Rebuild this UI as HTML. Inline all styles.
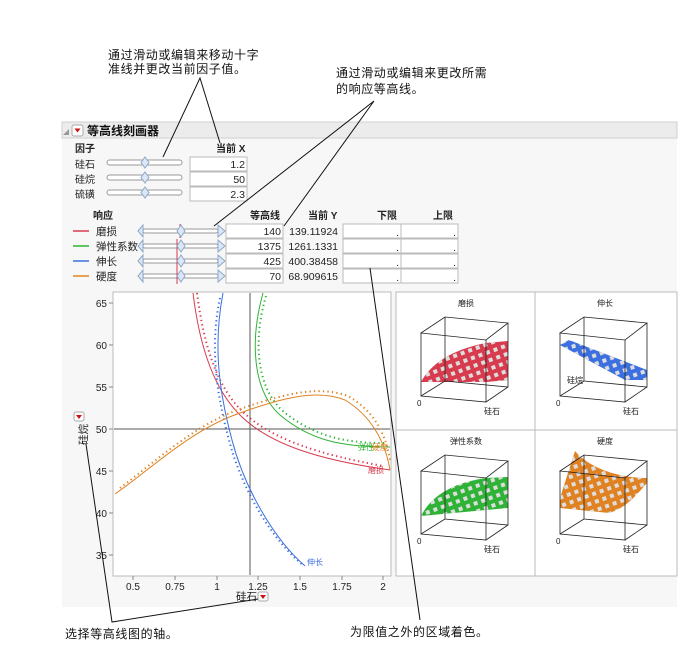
<!DOCTYPE html>
<html><head><meta charset="utf-8"><style>
html,body{margin:0;padding:0;background:#fff;}
svg{display:block;font-family:"Liberation Sans","Noto Sans CJK SC",sans-serif;}
</style></head><body>
<svg width="680" height="654" viewBox="0 0 680 654" xmlns="http://www.w3.org/2000/svg">
<!-- panel background -->
<rect x="62" y="122" width="615" height="485" fill="#f7f7f7"/>
<rect x="62" y="122" width="615" height="16" fill="#ececec" stroke="#cfcfcf"/>
<path d="M63 135 L69 129 L69 135 Z" fill="#999"/>
<rect x="72" y="125" width="11" height="11" rx="2" fill="#fff" stroke="#aaa"/>
<path d="M74.5 128.5 L80.5 128.5 L77.5 132.5 Z" fill="#d01010"/>
<text x="87" y="135" font-size="12" font-weight="bold" fill="#111">等高线刻画器</text>

<!-- factors -->
<g font-size="10" fill="#222">
<text x="75" y="152" font-weight="bold">因子</text>
<text x="216" y="152" font-weight="bold">当前 X</text>
<text x="75" y="168">硅石</text>
<text x="75" y="183">硅烷</text>
<text x="75" y="198">硫磺</text>
</g>
<g fill="#fff" stroke="#999">
<rect x="107" y="160" width="75" height="5" rx="2.5"/>
<rect x="107" y="175" width="75" height="5" rx="2.5"/>
<rect x="107" y="190" width="75" height="5" rx="2.5"/>
</g>
<g fill="#dbe7f6" stroke="#8fa8c8">
<path d="M145 157 L149 162.5 L145 168 L141 162.5 Z"/>
<path d="M145 172 L149 177.5 L145 183 L141 177.5 Z"/>
<path d="M145 187 L149 192.5 L145 198 L141 192.5 Z"/>
</g>
<g fill="#fff" stroke="#bbb">
<rect x="190" y="157" width="57" height="14"/>
<rect x="190" y="172" width="57" height="14"/>
<rect x="190" y="187" width="57" height="14"/>
</g>
<g font-size="10.5" fill="#222" text-anchor="end">
<text x="245" y="168">1.2</text>
<text x="245" y="183">50</text>
<text x="245" y="198">2.3</text>
</g>

<!-- responses -->
<g font-size="10" fill="#222" font-weight="bold">
<text x="93" y="219">响应</text>
<text x="250" y="219">等高线</text>
<text x="308" y="219">当前 Y</text>
<text x="377" y="219">下限</text>
<text x="433" y="219">上限</text>
</g>
<g stroke-width="1.5">
<line x1="73" y1="231" x2="89" y2="231" stroke="#d83a4e"/>
<line x1="73" y1="246" x2="89" y2="246" stroke="#2fb336"/>
<line x1="73" y1="261" x2="89" y2="261" stroke="#3c6fe0"/>
<line x1="73" y1="276" x2="89" y2="276" stroke="#e08222"/>
</g>
<g font-size="10.5" fill="#222">
<text x="96" y="235">磨损</text>
<text x="96" y="250">弹性系数</text>
<text x="96" y="265">伸长</text>
<text x="96" y="280">硬度</text>
</g>
<g id="sl">
<g fill="#fff" stroke="#999">
<rect x="143" y="229" width="75" height="4" rx="2"/>
<rect x="143" y="244" width="75" height="4" rx="2"/>
<rect x="143" y="259" width="75" height="4" rx="2"/>
<rect x="143" y="274" width="75" height="4" rx="2"/>
</g>
<g fill="#dbe7f6" stroke="#8fa8c8">
<path d="M143 225 L138 231 L143 237 Z M218 225 L225 231 L218 237 Z"/>
<path d="M143 240 L138 246 L143 252 Z M218 240 L225 246 L218 252 Z"/>
<path d="M143 255 L138 261 L143 267 Z M218 255 L225 261 L218 267 Z"/>
<path d="M143 270 L138 276 L143 282 Z M218 270 L225 276 L218 282 Z"/>
</g>
<line x1="180" y1="224" x2="180" y2="238" stroke="#d83a4e"/>
<line x1="177" y1="239" x2="177" y2="284" stroke="#d83a4e"/>
<g fill="#dbe7f6" stroke="#8fa8c8">
<path d="M181 225 L185 231 L181 237 L177 231 Z"/>
<path d="M181 240 L185 246 L181 252 L177 246 Z"/>
<path d="M181 255 L185 261 L181 267 L177 261 Z"/>
<path d="M181 270 L185 276 L181 282 L177 276 Z"/>
</g>
</g>
<g fill="#fff" stroke="#bbb">
<rect x="226" y="224" width="57" height="14"/><rect x="226" y="239" width="57" height="14"/>
<rect x="226" y="254" width="57" height="14"/><rect x="226" y="269" width="57" height="14"/>
<rect x="343" y="224" width="58" height="14"/><rect x="343" y="239" width="58" height="14"/>
<rect x="343" y="254" width="58" height="14"/><rect x="343" y="269" width="58" height="14"/>
<rect x="401" y="224" width="57" height="14"/><rect x="401" y="239" width="57" height="14"/>
<rect x="401" y="254" width="57" height="14"/><rect x="401" y="269" width="57" height="14"/>
</g>
<g font-size="10.5" fill="#222" text-anchor="end">
<text x="281" y="235">140</text><text x="281" y="250">1375</text><text x="281" y="265">425</text><text x="281" y="280">70</text>
<text x="338" y="235">139.11924</text><text x="338" y="250">1261.1331</text><text x="338" y="265">400.38458</text><text x="338" y="280">68.909615</text>
<text x="399" y="236">.</text><text x="399" y="251">.</text><text x="399" y="266">.</text><text x="399" y="281">.</text>
<text x="456" y="236">.</text><text x="456" y="251">.</text><text x="456" y="266">.</text><text x="456" y="281">.</text>
</g>

<!-- contour plot -->
<rect x="113" y="292" width="278" height="284" fill="#fff" stroke="#bbb"/>
<g font-size="10" fill="#222" text-anchor="end">
<text x="107" y="307">65</text><text x="107" y="349">60</text><text x="107" y="391">55</text>
<text x="107" y="433">50</text><text x="107" y="475">45</text><text x="107" y="517">40</text><text x="107" y="559">35</text>
</g>
<g stroke="#888">
<line x1="109" y1="303" x2="113" y2="303"/><line x1="109" y1="345" x2="113" y2="345"/><line x1="109" y1="387" x2="113" y2="387"/>
<line x1="109" y1="429" x2="113" y2="429"/><line x1="109" y1="471" x2="113" y2="471"/><line x1="109" y1="513" x2="113" y2="513"/><line x1="109" y1="555" x2="113" y2="555"/>
<line x1="133" y1="576" x2="133" y2="580"/><line x1="175" y1="576" x2="175" y2="580"/><line x1="217" y1="576" x2="217" y2="580"/>
<line x1="258" y1="576" x2="258" y2="580"/><line x1="300" y1="576" x2="300" y2="580"/><line x1="342" y1="576" x2="342" y2="580"/><line x1="383" y1="576" x2="383" y2="580"/>
</g>
<g font-size="10" fill="#222" text-anchor="middle">
<text x="133" y="590">0.5</text><text x="175" y="590">0.75</text><text x="217" y="590">1</text>
<text x="258" y="590">1.25</text><text x="300" y="590">1.5</text><text x="342" y="590">1.75</text><text x="383" y="590">2</text>
</g>
<text x="236" y="600" font-size="10.5" fill="#222">硅石</text>
<rect x="258" y="592" width="10" height="9" rx="2" fill="#fff" stroke="#aaa"/>
<path d="M260 595 L266 595 L263 599 Z" fill="#d01010"/>
<rect x="74" y="412" width="10" height="9" rx="2" fill="#fff" stroke="#aaa"/>
<path d="M76 415 L82 415 L79 419 Z" fill="#d01010"/>
<text x="0" y="0" font-size="10.5" fill="#222" transform="translate(87,445) rotate(-90)">硅烷</text>

<line x1="250" y1="293" x2="250" y2="575" stroke="#555"/>
<line x1="114" y1="429" x2="390" y2="429" stroke="#555"/>

<g fill="none" stroke-width="1">
<path d="M193 293 C200 350 215 390 240 415 C270 445 320 460 390 470" stroke="#d83a4e"/>
<path d="M197 293 C204 348 218 388 243 412 C272 440 322 455 383 466" stroke="#d83a4e" stroke-dasharray="1.3 3.2" stroke-width="2"/>
<path d="M223 293 C214 340 217 385 232 440 C245 490 275 540 305 566" stroke="#3c6fe0"/>
<path d="M220 298 C211 340 214 385 229 440 C242 490 272 540 304 566" stroke="#3c6fe0" stroke-dasharray="1.3 3.2" stroke-width="2"/>
<path d="M263 293 C250 340 252 390 280 415 C310 440 340 447 390 447" stroke="#2fb336"/>
<path d="M266 296 C253 340 256 388 284 412 C314 436 344 443 384 443" stroke="#2fb336" stroke-dasharray="1.3 3.2" stroke-width="2"/>
<path d="M115 494 C150 470 190 430 240 413 C290 395 320 390 345 400 C370 415 385 440 390 470" stroke="#e08222"/>
<path d="M120 488 C155 462 195 424 243 408 C290 392 320 386 348 396 C372 410 385 430 390 460" stroke="#e08222" stroke-dasharray="1.3 3.2" stroke-width="2"/>
</g>
<g font-size="8">
<text x="368" y="473" fill="#d83a4e">磨损</text>
<text x="358" y="450" fill="#2fb336">弹性</text><text x="372" y="450" fill="#e08222">硬度</text>
<text x="307" y="565" fill="#3c6fe0">伸长</text>
</g>

<!-- 3D panels -->
<rect x="396" y="292" width="281" height="284" fill="#fff" stroke="#bbb"/>
<line x1="535" y1="292" x2="535" y2="576" stroke="#bbb"/>
<line x1="396" y1="430" x2="677" y2="430" stroke="#bbb"/>
<defs>
<pattern id="ck" width="8" height="8" patternUnits="userSpaceOnUse" patternTransform="rotate(-20)">
<rect x="0" y="0" width="4" height="4" fill="#ddd"/>
</pattern>
<g id="cube" fill="none" stroke="#222" stroke-width="0.8">
<path d="M421 333 L445 317 L508 323 L486 340 Z"/>
<path d="M421 333 L421 396 L486 402 L486 340"/>
<path d="M445 317 L445 381 L508 387 L508 323"/>
<path d="M421 396 L445 381 M486 402 L508 387"/>
</g>
</defs>
<g>
<path d="M421 382 C430 365 450 350 486 343 L508 341 L508 380 L486 382 Z" fill="#d83a4e"/>
<path d="M421 382 C430 365 450 350 486 343 L508 341 L508 380 L486 382 Z" fill="url(#ck)"/>
<use href="#cube"/>
</g>
<g transform="translate(139,0)">
<path d="M421 345 L430 340 L508 370 L508 380 L486 380 Z" fill="#3c6fe0"/>
<path d="M421 345 L430 340 L508 370 L508 380 L486 380 Z" fill="url(#ck)"/>
<use href="#cube"/>
</g>
<g transform="translate(0,138)">
<path d="M421 378 C430 360 450 345 486 340 L508 339 L508 370 L486 372 Z" fill="#2fb336"/>
<path d="M421 378 C430 360 450 345 486 340 L508 339 L508 370 L486 372 Z" fill="url(#ck)"/>
<use href="#cube"/>
</g>
<g transform="translate(139,138)">
<path d="M421 360 L436 313 C450 330 480 340 508 340 L508 345 C495 360 486 370 470 375 L421 370 Z" fill="#e08222"/>
<path d="M421 360 L436 313 C450 330 480 340 508 340 L508 345 C495 360 486 370 470 375 L421 370 Z" fill="url(#ck)"/>
<use href="#cube"/>
</g>
<g font-size="8" fill="#222">
<text x="466" y="306" text-anchor="middle">磨损</text>
<text x="605" y="306" text-anchor="middle">伸长</text>
<text x="466" y="444" text-anchor="middle">弹性系数</text>
<text x="605" y="444" text-anchor="middle">硬度</text>
<text x="417" y="406">0</text><text x="556" y="406">0</text><text x="417" y="544">0</text><text x="556" y="544">0</text>
<text x="484" y="414">硅石</text><text x="623" y="414">硅石</text><text x="484" y="552">硅石</text><text x="623" y="552">硅石</text>
<text x="567" y="383">硅烷</text>
</g>

<!-- annotations -->
<g font-size="12" fill="#111" letter-spacing="0.6">
<text x="108" y="59">通过滑动或编辑来移动十字</text>
<text x="108" y="73">准线并更改当前因子值。</text>
<text x="336" y="77">通过滑动或编辑来更改所需</text>
<text x="336" y="93">的响应等高线。</text>
<text x="65" y="638">选择等高线图的轴。</text>
<text x="350" y="636">为限值之外的区域着色。</text>
</g>
<g stroke="#111" stroke-width="1" fill="none">
<path d="M163 157 L200 78 L220 143"/>
<path d="M214 226 L374 101 L284 226"/>
<path d="M86 444 L112 622 L258 599"/>
<path d="M370 268 L420 620"/>
</g>
</svg>
</body></html>
